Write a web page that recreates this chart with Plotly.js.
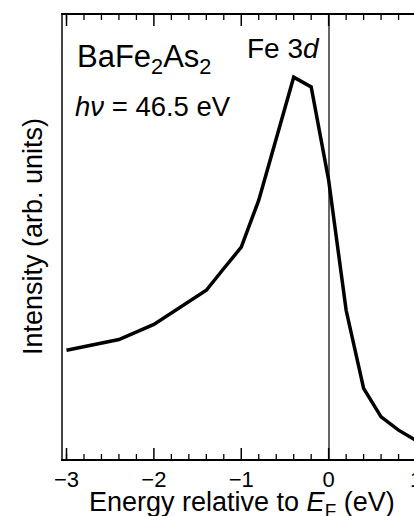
<!DOCTYPE html>
<html>
<head>
<meta charset="utf-8">
<script src="https://cdn.plot.ly/plotly-3.0.1.min.js"></script>
<style>
html, body { margin:0; padding:0; overflow:hidden; width:414px; height:516px; background:#fff; }
#chart { width:480px; height:516px; }
</style>
</head>
<body>
<div id="chart"></div>
<script>
// Energy relative to EF (eV)
const energy = [-3.0, -2.4, -2.0, -1.6, -1.4, -1.2, -1.0, -0.8, -0.4, -0.2, 0.0, 0.2, 0.4, 0.6, 0.8, 1.0, 1.2];
// Intensity (arb. units)
const intensity = [0.245, 0.269, 0.303, 0.355, 0.380, 0.429, 0.477, 0.583, 0.860, 0.838, 0.628, 0.335, 0.159, 0.095, 0.065, 0.042, 0.026];
const xTickVals = [-3, -2, -1, 0, 1];
const xTickText = ['\u22123', '\u22122', '\u22121', '0', '1'];
const xMinorVals = [-3.0, -2.8, -2.6, -2.4, -2.2, -1.8, -1.6, -1.4, -1.2, -0.8, -0.6, -0.4, -0.2, 0.2, 0.4, 0.6, 0.8, 1.2];

const font = 'Liberation Sans, Arial, sans-serif';
const xRange = [-3.04, 1.4];
const plotH = 444;               // plot-area height in px (516 - 15 - 57)
const majorLen = 11 / plotH;     // tick lengths as fractions of the y range [0, 1]
const minorLen = 5 / plotH;

// inward tick marks on the bottom and top frame edges, built from the tick arrays
function tickSegments(vals, len) {
  const xs = [], ys = [];
  vals.forEach(v => {
    xs.push(v, v, null, v, v, null);
    ys.push(0, len, null, 1, 1 - len, null);
  });
  return {xs, ys};
}
const maj = tickSegments(xTickVals, majorLen);
const mnr = tickSegments(xMinorVals, minorLen);

const trace = {
  x: energy, y: intensity, type: 'scatter', mode: 'lines',
  line: {color: 'black', width: 3.5}, hoverinfo: 'skip', showlegend: false
};
const majorTicks = {
  x: maj.xs, y: maj.ys, type: 'scatter', mode: 'lines', connectgaps: false, cliponaxis: false,
  line: {color: 'black', width: 1.5}, hoverinfo: 'skip', showlegend: false
};
const minorTicks = {
  x: mnr.xs, y: mnr.ys, type: 'scatter', mode: 'lines', connectgaps: false, cliponaxis: false,
  line: {color: 'black', width: 1.3}, hoverinfo: 'skip', showlegend: false
};

const layout = {
  width: 480, height: 516,
  margin: {l: 63, r: 29, t: 15, b: 57},
  font: {family: font, color: 'black'},
  showlegend: false,
  xaxis: {
    range: xRange, tickmode: 'array', tickvals: xTickVals, ticktext: xTickText,
    ticks: '', showline: true, linecolor: 'black', linewidth: 1.5, mirror: true, showgrid: false,
    zeroline: true, zerolinecolor: '#666', zerolinewidth: 2,
    tickfont: {size: 22, family: font, color: 'black'}
  },
  yaxis: {
    range: [0, 1], showticklabels: false, ticks: '', showgrid: false, zeroline: false,
    showline: true, linecolor: '#444', linewidth: 2
  },
  annotations: [
    {xref: 'paper', yref: 'paper', x: 0.030, y: 0.900, xanchor: 'left', yanchor: 'middle', showarrow: false,
     text: 'BaFe<sub>2</sub>As<sub>2</sub>', font: {size: 31, family: font, color: 'black'}},
    {xref: 'paper', yref: 'paper', x: 0.026, y: 0.795, xanchor: 'left', yanchor: 'middle', showarrow: false,
     text: '<i>hν</i> = 46.5 eV', font: {size: 27.5, family: font, color: 'black'}},
    {xref: 'paper', yref: 'paper', x: 0.470, y: 0.924, xanchor: 'left', yanchor: 'middle', showarrow: false,
     text: 'Fe 3<i>d</i>', font: {size: 28, family: font, color: 'black'}},
    {xref: 'paper', yref: 'paper', x: 0.461, y: -0.101, xanchor: 'center', yanchor: 'middle', showarrow: false,
     text: 'Energy relative to <i>E</i><sub>F</sub> (eV)', font: {size: 27, family: font, color: 'black'}},
    {xref: 'paper', yref: 'paper', x: -0.077, y: 0.5, xanchor: 'center', yanchor: 'middle', showarrow: false, textangle: -90,
     text: 'Intensity (arb. units)', font: {size: 27, family: font, color: 'black'}}
  ]
};

Plotly.newPlot('chart', [minorTicks, majorTicks, trace], layout, {displayModeBar: false});
</script>
</body>
</html>
